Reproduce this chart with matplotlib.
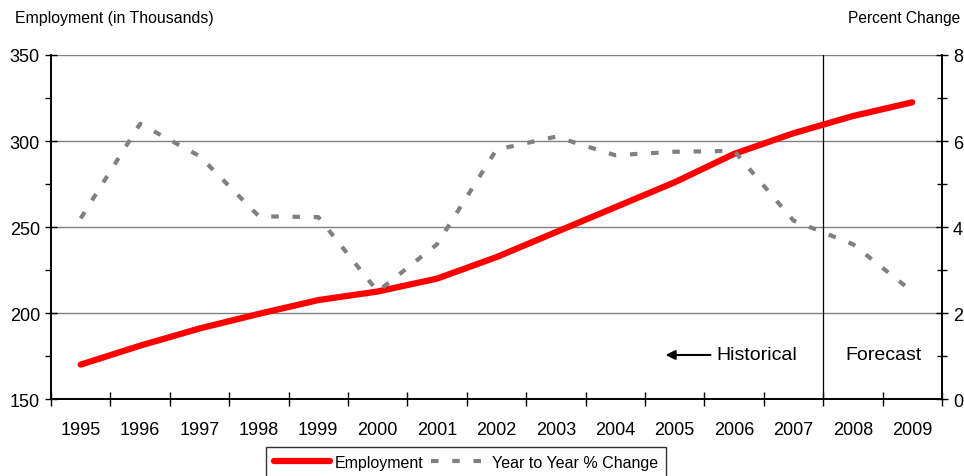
import matplotlib
matplotlib.use("Agg")
import matplotlib.pyplot as plt
from matplotlib.ticker import MultipleLocator, FixedLocator, NullFormatter

plt.rcParams['font.family'] = ['Liberation Sans', 'DejaVu Sans']

years = ['1995', '1996', '1997', '1998', '1999', '2000', '2001', '2002',
         '2003', '2004', '2005', '2006', '2007', '2008', '2009']
employment = [170, 181, 191, 199.5, 207.5, 212.5, 220, 232.5,
              247, 261.5, 276, 292.5, 304.5, 314.5, 322.5]
pct_change = [4.2, 6.4, 5.65, 4.25, 4.23, 2.5, 3.6, 5.8,
              6.1, 5.67, 5.75, 5.77, 4.15, 3.6, 2.5]
forecast_start = '2008'

fig = plt.figure(figsize=(9.64, 4.77), dpi=100)
ax = fig.add_axes([0.0529, 0.1614, 0.9242, 0.7212])
ax2 = ax.twinx()

x = list(range(len(years)))
ax.plot(x, employment, color='#ff0000', lw=4.5, solid_capstyle='round', zorder=5,
        label='Employment')
ax2.plot(x, pct_change, color='#808080', lw=3, dashes=(1.8, 3.3), zorder=4,
         label='Year to Year % Change')

ax.set_xlim(-0.5, len(years) - 0.5)
ax.set_ylim(150, 350)
ax2.set_ylim(0, 8)

for y in [200, 250, 300, 350]:
    ax.axhline(y, color='#808080', lw=1, zorder=1)

xf = years.index(forecast_start) - 0.5
ax.axvline(xf, color='black', lw=0.9, zorder=2)

# x ticks: marks at category boundaries, labels at centres
ax.xaxis.set_major_locator(FixedLocator([i - 0.5 for i in range(len(years) + 1)]))
ax.xaxis.set_major_formatter(NullFormatter())
ax.xaxis.set_minor_locator(FixedLocator(x))
ax.set_xticklabels(years, minor=True)
ax.tick_params(axis='x', which='major', direction='inout', length=10, width=1)
ax.tick_params(axis='x', which='minor', length=0, pad=16, labelsize=13)

ax.yaxis.set_major_locator(MultipleLocator(50))
ax.yaxis.set_minor_locator(MultipleLocator(25))
ax.tick_params(axis='y', which='major', direction='inout', length=8, width=1, labelsize=13, pad=4)
ax.tick_params(axis='y', which='minor', direction='out', length=4, width=1)

ax2.yaxis.set_major_locator(MultipleLocator(2))
ax2.yaxis.set_minor_locator(MultipleLocator(1))
ax2.tick_params(axis='y', which='major', direction='inout', length=8, width=1, labelsize=13, pad=4)
ax2.tick_params(axis='y', which='minor', direction='inout', length=7, width=1)

for a in (ax, ax2):
    a.spines['top'].set_visible(False)
    for s in ('left', 'right', 'bottom'):
        a.spines[s].set_linewidth(1.2)
        a.spines[s].set_color('black')

# historical / forecast labels
ax.annotate('', xy=(9.8, 175.6), xytext=(10.65, 175.6),
            arrowprops=dict(arrowstyle='-|>', color='black', lw=1.5, mutation_scale=14))
ax.text(10.7, 175.6, 'Historical', fontsize=14, va='center', ha='left')
ax.text(13.52, 175.6, 'Forecast', fontsize=14, va='center', ha='center')

fig.text(0.0155, 0.962, 'Employment (in Thousands)', fontsize=11.4, va='center', ha='left')
fig.text(0.996, 0.962, 'Percent Change', fontsize=11.2, va='center', ha='right')

h1, l1 = ax.get_legend_handles_labels()
h2, l2 = ax2.get_legend_handles_labels()
leg = fig.legend(h1 + h2, l1 + l2, loc='upper center', bbox_to_anchor=(0.4834, 0.0608),
                 borderaxespad=0, ncol=2, frameon=True, fancybox=False, fontsize=11.5,
                 handlelength=3.5, columnspacing=0.45, handletextpad=0.3, borderpad=0.5)
leg.get_frame().set_edgecolor('black')
leg.get_frame().set_linewidth(1)

fig.savefig('out.png', dpi=100)
